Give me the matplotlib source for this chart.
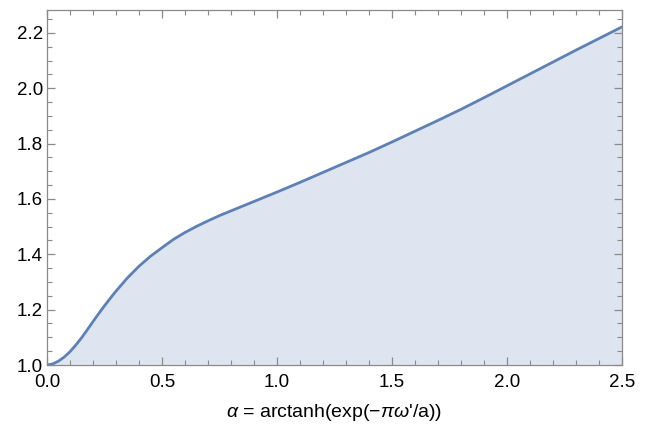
import matplotlib
matplotlib.use("Agg")
import matplotlib.pyplot as plt
from matplotlib.ticker import MultipleLocator

# curve
alpha = [0.000, 0.025, 0.050, 0.075, 0.100, 0.125, 0.150, 0.175, 0.200, 0.225,
         0.250, 0.275, 0.300, 0.350, 0.400, 0.450, 0.500, 0.550, 0.600, 0.650,
         0.700, 0.750, 0.800, 0.900, 1.000, 1.100, 1.200, 1.300, 1.400, 1.500,
         1.600, 1.700, 1.800, 1.900, 2.000, 2.100, 2.200, 2.300, 2.400, 2.500]
value = [1.000, 1.004, 1.014, 1.029, 1.048, 1.072, 1.098, 1.127, 1.157, 1.186,
         1.214, 1.241, 1.267, 1.315, 1.357, 1.393, 1.424, 1.454, 1.479, 1.501,
         1.521, 1.540, 1.557, 1.591, 1.625, 1.660, 1.696, 1.732, 1.768, 1.806,
         1.845, 1.884, 1.924, 1.966, 2.009, 2.052, 2.095, 2.138, 2.180, 2.222]

x_ticks = [0.0, 0.5, 1.0, 1.5, 2.0, 2.5]
y_ticks = [1.0, 1.2, 1.4, 1.6, 1.8, 2.0, 2.2]

LINE = "#5E81B5"
FILL = "#DFE5F0"
FRAME = "#8A8A8A"

plt.rcParams["font.family"] = ["Liberation Sans", "DejaVu Sans"]
plt.rcParams["mathtext.fontset"] = "custom"
plt.rcParams["mathtext.rm"] = "Liberation Sans"
plt.rcParams["mathtext.it"] = "Liberation Sans:italic"

fig = plt.figure(figsize=(6.48, 4.36), dpi=100)
ax = fig.add_axes([47 / 648, 1 - 365 / 436, 575 / 648, 355 / 436])

ax.fill_between(alpha, 1.0, value, color=FILL, linewidth=0)
ax.plot(alpha, value, color=LINE, linewidth=2.0, solid_capstyle="round",
        solid_joinstyle="round")

ax.set_xlim(0, 2.5)
ax.set_ylim(1.0, 2.283)
ax.set_xticks(x_ticks)
ax.set_yticks(y_ticks)
ax.set_xticklabels([f"{t:.1f}" for t in x_ticks])
ax.set_yticklabels([f"{t:.1f}" for t in y_ticks])
ax.xaxis.set_minor_locator(MultipleLocator(0.1))
ax.yaxis.set_minor_locator(MultipleLocator(0.05))

ax.tick_params(which="both", direction="in", top=True, right=True,
               color=FRAME, labelsize=13.5, labelcolor="black")
ax.tick_params(which="major", length=6, width=0.9)
ax.tick_params(which="minor", length=3.5, width=0.8)
ax.tick_params(axis="x", which="major", pad=6.5)
ax.tick_params(axis="y", which="major", pad=3)
for spine in ax.spines.values():
    spine.set_edgecolor(FRAME)
    spine.set_linewidth(0.9)

ax.set_xlabel(r"$\alpha$ = arctanh(exp($-\pi\omega$'/a))", fontsize=14, labelpad=8)

fig.savefig("out.png", dpi=100)
